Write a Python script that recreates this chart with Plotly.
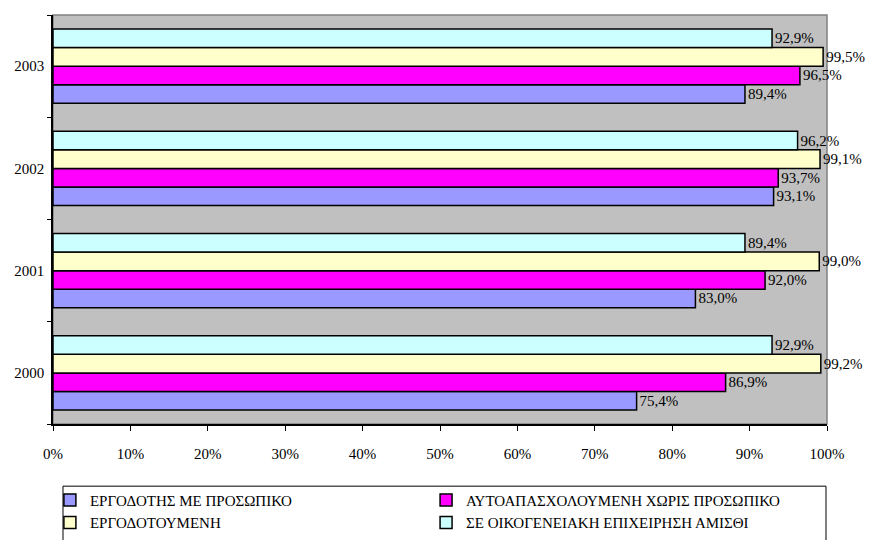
import plotly.graph_objects as go

years = ["2000", "2001", "2002", "2003"]
series_names = [
    "ΕΡΓΟΔΟΤΗΣ ΜΕ ΠΡΟΣΩΠΙΚΟ",
    "ΑΥΤΟΑΠΑΣΧΟΛΟΥΜΕΝΗ ΧΩΡΙΣ ΠΡΟΣΩΠΙΚΟ",
    "ΕΡΓΟΔΟΤΟΥΜΕΝΗ",
    "ΣΕ ΟΙΚΟΓΕΝΕΙΑΚΗ ΕΠΙΧΕΙΡΗΣΗ ΑΜΙΣΘΙ",
]
employer = [0.754, 0.830, 0.931, 0.894]
self_employed = [0.869, 0.920, 0.937, 0.965]
employee = [0.992, 0.990, 0.991, 0.995]
family_unpaid = [0.929, 0.894, 0.962, 0.929]
series_values = [employer, self_employed, employee, family_unpaid]
colors = ["#9999FF", "#FF00FF", "#FFFFCC", "#CCFFFF"]
legend_groups = ["legend", "legend2", "legend", "legend2"]
x_ticks = [0, 0.1, 0.2, 0.3, 0.4, 0.5, 0.6, 0.7, 0.8, 0.9, 1.0]

FONT = "Liberation Serif"

fig = go.Figure()
for name, vals, col, lg in zip(series_names, series_values, colors, legend_groups):
    fig.add_trace(go.Bar(
        y=years, x=vals, name=name, orientation="h", legend=lg,
        marker=dict(color=col, line=dict(color="black", width=1.5)),
        texttemplate="%{x:.1%}", textposition="outside",
        textfont=dict(family=FONT, size=15, color="black"),
        constraintext="none", cliponaxis=False,
    ))

legend_common = dict(
    orientation="v", yanchor="top", y=-0.146, xanchor="left",
    borderwidth=0, bgcolor="rgba(0,0,0,0)", traceorder="normal",
    itemwidth=30, font=dict(family=FONT, size=15), tracegroupgap=0,
)

fig.update_layout(
    width=870, height=540,
    margin=dict(l=53, r=43, t=15, b=116, autoexpand=False),
    paper_bgcolor="white", plot_bgcolor="#C0C0C0",
    barmode="group", bargap=0.275, bargroupgap=0,
    separators=",.",
    font=dict(family=FONT, size=15, color="black"),
    showlegend=True,
    legend=dict(x=-0.004, **legend_common),
    legend2=dict(x=0.482, **legend_common),
    shapes=[
        dict(type="rect", xref="paper", yref="paper", x0=0, x1=1, y0=0, y1=1,
             line=dict(color="#808080", width=1.5), layer="below"),
        dict(type="rect", xref="paper", yref="paper", x0=0.0129, x1=0.9987,
             y0=-0.152, y1=-0.32, line=dict(color="black", width=1),
             fillcolor="white", layer="below"),
    ],
)
fig.update_xaxes(
    range=[0, 1], tickvals=x_ticks, tickformat=".0%", automargin=False,
    showgrid=False, zeroline=False, showline=True, linecolor="black", linewidth=1.5,
    ticks="outside", ticklen=5, tickcolor="black", ticklabelstandoff=10,
)
fig.update_yaxes(
    type="category", categoryorder="array", categoryarray=years, automargin=False,
    showgrid=False, zeroline=False, showline=True, linecolor="black", linewidth=1.5,
    ticks="outside", ticklen=4, tickcolor="black", tickson="boundaries",
    ticklabelstandoff=4,
)

fig.write_html("out.html", post_script="document.body.style.margin='0';",
               config={"displayModeBar": False})
